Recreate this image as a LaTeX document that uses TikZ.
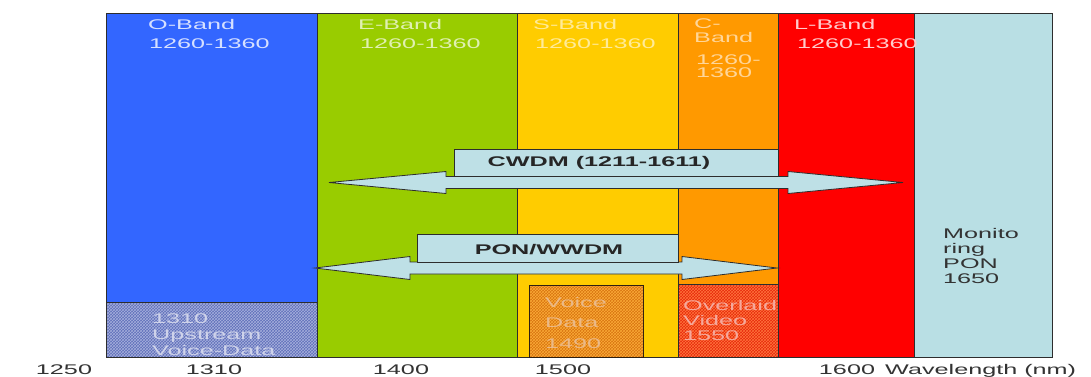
\documentclass[tikz,border=0pt]{standalone}
\usepackage{fontspec}
\setmainfont{Liberation Sans}
\newfontfamily\widefont[FakeStretch=1.8]{Liberation Sans}
\usetikzlibrary{patterns}

\definecolor{oband}{RGB}{51,102,255}
\definecolor{eband}{RGB}{153,204,0}
\definecolor{sband}{RGB}{255,204,0}
\definecolor{cband}{RGB}{255,153,0}
\definecolor{lband}{RGB}{255,0,0}
\definecolor{monband}{RGB}{185,223,228}
\definecolor{arrowfill}{RGB}{190,224,230}
\definecolor{edge}{RGB}{45,45,45}
\definecolor{upfill}{RGB}{95,110,185}
\definecolor{uppat}{RGB}{165,175,220}
\definecolor{voicefill}{RGB}{215,115,15}
\definecolor{voicepat}{RGB}{250,170,55}
\definecolor{videofill}{RGB}{230,40,10}
\definecolor{videopat}{RGB}{255,115,60}

\begin{document}
\begin{tikzpicture}[x=1pt, y=-1pt,
  every node/.style={inner sep=0pt, font=\widefont\fontsize{14}{15}\selectfont},
  band/.style={draw=edge, line width=1pt},
  lbl/.style={anchor=north west, align=left},
  axislbl/.style={anchor=base, text=black!80},
  bandarrow/.style={draw=edge, fill=arrowfill, line width=0.8pt},
  arrowlbl/.style={font=\widefont\bfseries\fontsize{14}{15}\selectfont, text=black!85}]
  \useasboundingbox (0,0) rectangle (1091,376);

  % bands
  \filldraw[band, fill=oband] (106,13) rectangle (317,357);
  \filldraw[band, fill=eband] (317,13) rectangle (517,357);
  \filldraw[band, fill=sband] (517,13) rectangle (678,357);
  \filldraw[band, fill=cband] (678,13) rectangle (778,357);
  \filldraw[band, fill=lband] (778,13) rectangle (914,357);
  \filldraw[band, fill=monband] (914,13) rectangle (1052,357);

  % traffic boxes at the bottom
  \fill[upfill] (106,302) rectangle (317,357);
  \fill[pattern=crosshatch, pattern color=uppat] (106,302) rectangle (317,357);
  \draw[band] (106,302) rectangle (317,357);
  \fill[voicefill] (529,285) rectangle (643,357);
  \fill[pattern=crosshatch, pattern color=voicepat] (529,285) rectangle (643,357);
  \draw[band, draw=black!75!brown] (529,285) rectangle (643,357);
  \fill[videofill] (678,284) rectangle (778,357);
  \fill[pattern=crosshatch, pattern color=videopat] (678,284) rectangle (778,357);
  \draw[band] (678,284) rectangle (778,357);

  % band names
  \node[lbl, text=white!80!oband] (oname) at (148,19) {O-Band};
  \node[lbl, text=white!80!oband] (orange) at (149,39) {1260-1360};
  \node[lbl, text=white!70!eband] (ename) at (358,19) {E-Band};
  \node[lbl, text=white!70!eband] (erange) at (360,39) {1260-1360};
  \node[lbl, text=white!60!sband] (sname) at (533,19) {S-Band};
  \node[lbl, text=white!60!sband] (srange) at (535,39) {1260-1360};
  \node[lbl, text=white!60!cband, font=\widefont\fontsize{14}{14}\selectfont] (cname) at (694,19) {C-\\Band};
  \node[lbl, text=white!60!cband, font=\widefont\fontsize{14}{13}\selectfont] (crange) at (696,55) {1260-\\1360};
  \node[lbl, text=white!80!lband] (lname) at (794,19) {L-Band};
  \node[lbl, text=white!80!lband] (lrange) at (797,39) {1260-1360};

  % CWDM arrow
  \draw[bandarrow] (329,182.5) -- (446,171.5) -- (446,176.5) -- (788,176.5) -- (788,171.5)
    -- (903,182.5) -- (788,193.5) -- (788,188.5) -- (446,188.5) -- (446,193.5) -- cycle;
  \draw[bandarrow] (454,149) rectangle (778,176.5);
  \node[arrowlbl] (cwdm) at (599,163) {CWDM (1211-1611)};

  % PON arrow
  \draw[bandarrow] (315,268) -- (410,256.5) -- (410,262) -- (682,262) -- (682,256.5)
    -- (777,268) -- (682,279.5) -- (682,274) -- (410,274) -- (410,279.5) -- cycle;
  \draw[bandarrow] (417,234) rectangle (678,262);
  \node[arrowlbl] (pon) at (549,250) {PON/WWDM};

  % box texts
  \node[lbl, text=white!70!upfill, font=\widefont\fontsize{14}{16}\selectfont] (upstream) at (152,314) {1310\\Upstream\\Voice-Data};
  \node[lbl, text=white!50!voicefill, font=\widefont\fontsize{14}{20.5}\selectfont] (voice) at (545,297) {Voice\\Data\\1490};
  \node[lbl, text=white!60!videofill] (video) at (683,300) {Overlaid\\Video\\1550};
  \node[lbl, text=black!80] (monitor) at (943,228) {Monito\\ring\\PON\\1650};

  % wavelength axis
  \foreach \x/\lab in {64/1250, 214/1310, 401/1400, 563/1500, 847/1600}
    \node[axislbl] (tick\lab) at (\x,374) {\lab};
  \node[axislbl, anchor=base west] (axisname) at (885,374) {Wavelength (nm)};
\end{tikzpicture}
\end{document}
